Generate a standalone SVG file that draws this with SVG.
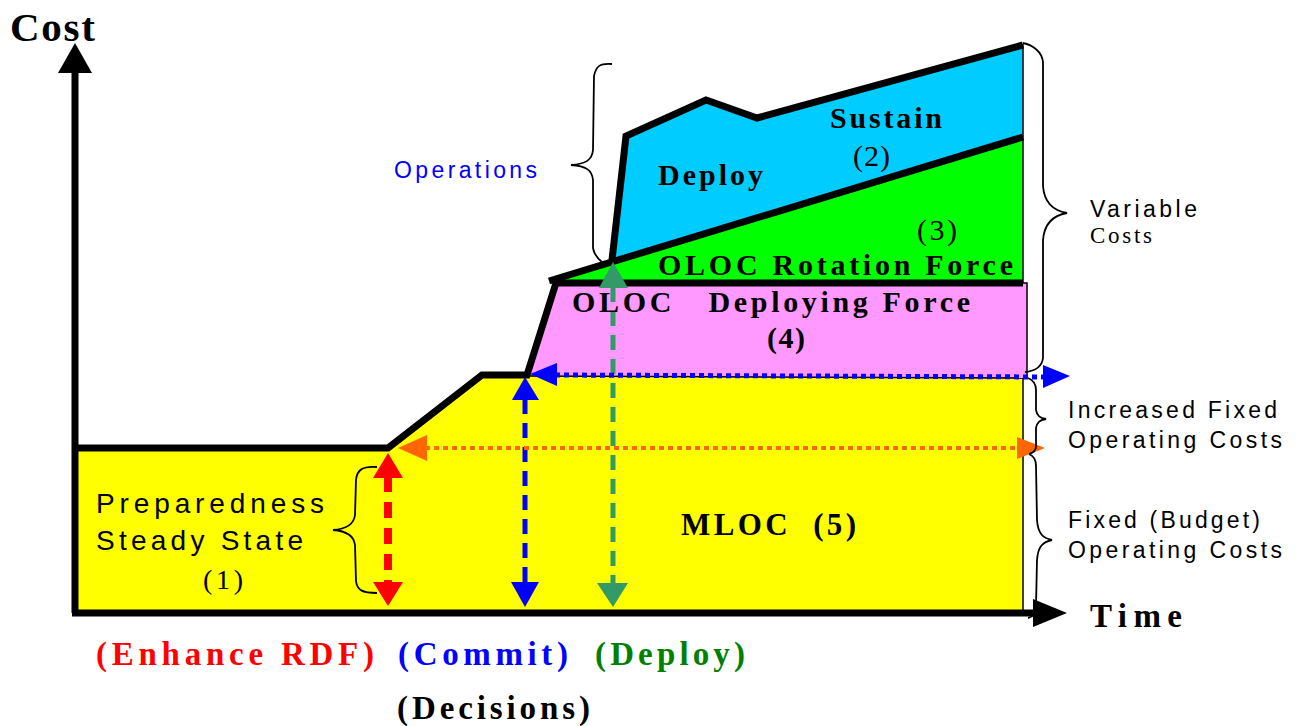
<svg xmlns="http://www.w3.org/2000/svg" width="1298" height="726" viewBox="0 0 1298 726">
<style>
.serif{font-family:"Liberation Serif","Times New Roman",serif}
.sans{font-family:"Liberation Sans",Arial,sans-serif}
.b{font-weight:bold}
.thick{fill:none;stroke:#000;stroke-width:7;stroke-linejoin:miter}
.thin{fill:none;stroke:#000;stroke-width:1.5}
.brace{fill:none;stroke:#000;stroke-width:1.8}
</style>
<rect width="1298" height="726" fill="#fff"/>
<g id="areas">
<g id="mloc"><polygon points="77,451 388,451 484,375 527,375 1023,378 1023,610 77,610" fill="#ffff00"/></g>
<g id="deploying"><polygon points="527,376 556,283 1027,283 1027,379" fill="#ff99ff"/></g>
<g id="rotation"><polygon points="550,283 1023,136 1023,283" fill="#00ff00"/></g>
<g id="sustain"><polygon points="612,260 626,135 706,99 757,117 1023,44 1023,136 612,260" fill="#00ccff"/></g>
</g>
<g id="outlines">
<line x1="1023" y1="44" x2="1023" y2="283" class="thin"/>
<polyline points="1023,283 1027,283 1027,379" class="thin"/>
<line x1="1023" y1="378" x2="1023" y2="610" class="thin"/>
<line x1="527" y1="376" x2="1023" y2="378" class="thin"/>
<polyline points="77,448 388,448 482,375 527,375 556,283 1023,283" class="thick"/>
<line x1="549" y1="281" x2="1023" y2="137" class="thick"/>
<polyline points="612,260 626,136 706,100 757,118 1023,45" class="thick"/>
</g>
<g id="axes">
<line x1="75" y1="613" x2="75" y2="70" stroke="#000" stroke-width="7"/>
<polygon points="75,43 58,73 92,73" fill="#000"/>
<line x1="72" y1="613" x2="1036" y2="613" stroke="#000" stroke-width="7"/>
<polygon points="1067,613 1033,599 1033,627" fill="#000"/>
</g>
<g id="connectors">
<line x1="388" y1="476" x2="388" y2="584" stroke="#ff0000" stroke-width="8" stroke-dasharray="16 10"/>
<polygon points="388,453 373,478 403,478" fill="#ff0000"/>
<polygon points="388,606 373,582 403,582" fill="#ff0000"/>
<line x1="525" y1="399" x2="525" y2="583" stroke="#0000ff" stroke-width="5" stroke-dasharray="15 9"/>
<polygon points="525,377 512,400 539,400" fill="#0000ff"/>
<polygon points="525,607 511,582 539,582" fill="#0000ff"/>
<line x1="613" y1="287" x2="613" y2="584" stroke="#339966" stroke-width="5" stroke-dasharray="15 9"/>
<polygon points="613,262 599,288 628,288" fill="#339966"/>
<polygon points="613,607 597,583 628,583" fill="#339966"/>
<line x1="425" y1="448" x2="1019" y2="448" stroke="#ff6600" stroke-width="4" stroke-dasharray="5 4"/>
<polygon points="398,448 427,435 427,461" fill="#ff6600"/>
<polygon points="1045,448 1017,437 1017,459" fill="#ff6600"/>
<line x1="555" y1="375" x2="1045" y2="377" stroke="#0000ff" stroke-width="5" stroke-dasharray="5 4"/>
<polygon points="530,374 557,363 557,386" fill="#0000ff"/>
<polygon points="1070,376 1043,365 1043,388" fill="#0000ff"/>
</g>
<g id="braces">
<path class="brace" d="M612,64 C600,63 596,66 594,76 L593,150 C592,160 586,164 571,165 C586,166 592,170 593,180 L593,248 C594,255 598,259 603,263"/>
<path class="brace" d="M1023,43 C1033,45 1042,52 1043,62 L1043,186 C1044,200 1050,210 1067,213 C1050,216 1044,226 1043,240 L1043,358 C1042,366 1036,371 1025,372"/>
<path class="brace" d="M1028,378 C1033,380 1036,384 1036,390 L1036,410 C1037,416 1040,418 1046,419 C1040,420 1037,422 1036,428 L1036,446 C1036,450 1033,453 1029,454"/>
<path class="brace" d="M1029,454 C1034,456 1036,460 1036,466 L1037,520 C1038,534 1043,538 1052,540 C1043,542 1038,546 1037,560 L1036,606 C1036,614 1033,617 1028,618"/>
<path class="brace" d="M377,467 C362,466 357,470 356,480 L355,515 C354,524 346,529 333,530 C346,531 354,536 355,545 L356,581 C357,590 362,593 377,593"/>
</g>
<g id="labels">
<text x="10" y="41" class="serif b" font-size="41" textLength="85" lengthAdjust="spacing">Cost</text>
<text x="1090" y="627" class="serif b" font-size="33" textLength="92" lengthAdjust="spacing">Time</text>
<text x="96" y="513" class="sans" font-size="28" textLength="228" lengthAdjust="spacing">Preparedness</text>
<text x="96" y="550" class="sans" font-size="28" textLength="207" lengthAdjust="spacing">Steady State</text>
<text x="203" y="589" class="serif" font-size="28" textLength="40" lengthAdjust="spacing">(1)</text>
<text x="681" y="535" class="serif b" font-size="31" textLength="175" lengthAdjust="spacing" xml:space="preserve">MLOC  (5)</text>
<text x="572" y="312" class="serif b" font-size="30" textLength="398" lengthAdjust="spacing" xml:space="preserve">OLOC   Deploying Force</text>
<text x="767" y="348" class="serif b" font-size="30" textLength="38" lengthAdjust="spacing">(4)</text>
<text x="658" y="275" class="serif b" font-size="30" textLength="355" lengthAdjust="spacing">OLOC Rotation Force</text>
<text x="917" y="240" class="serif" font-size="30" textLength="40" lengthAdjust="spacing">(3)</text>
<text x="658" y="185" class="serif b" font-size="30" textLength="105" lengthAdjust="spacing">Deploy</text>
<text x="830" y="128" class="serif b" font-size="30" textLength="112" lengthAdjust="spacing">Sustain</text>
<text x="853" y="166" class="serif" font-size="30" textLength="37" lengthAdjust="spacing">(2)</text>
<text x="394" y="178" class="sans" font-size="23" fill="#0000ff" textLength="143" lengthAdjust="spacing">Operations</text>
<text x="1090" y="217" class="sans" font-size="23" textLength="107" lengthAdjust="spacing">Variable</text>
<text x="1090" y="243" class="serif" font-size="23" textLength="62" lengthAdjust="spacing">Costs</text>
<text x="1068" y="418" class="sans" font-size="23" textLength="209" lengthAdjust="spacing">Increased Fixed</text>
<text x="1068" y="448" class="sans" font-size="23" textLength="214" lengthAdjust="spacing">Operating Costs</text>
<text x="1068" y="528" class="sans" font-size="23" textLength="192" lengthAdjust="spacing">Fixed (Budget)</text>
<text x="1068" y="558" class="sans" font-size="23" textLength="214" lengthAdjust="spacing">Operating Costs</text>
<text x="96" y="665" class="serif b" font-size="33" fill="#ff0000" textLength="278" lengthAdjust="spacing">(Enhance RDF)</text>
<text x="398" y="665" class="serif b" font-size="33" fill="#0000ff" textLength="170" lengthAdjust="spacing">(Commit)</text>
<text x="595" y="665" class="serif b" font-size="33" fill="#008000" textLength="150" lengthAdjust="spacing">(Deploy)</text>
<text x="397" y="719" class="serif b" font-size="33" textLength="193" lengthAdjust="spacing">(Decisions)</text>
</g>
</svg>
